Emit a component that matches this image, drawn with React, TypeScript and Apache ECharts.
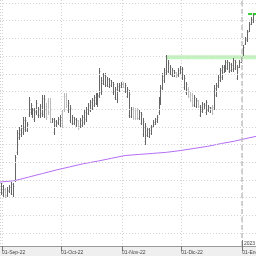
import React, { useEffect, useRef } from 'react';
import * as echarts from 'echarts';

// ---- data (daily bars, first bar on FIRST_BAR_DATE) ----
const FIRST_BAR_DATE = '2022-08-31';

const OPEN = [
  11.16, 11.13, 11.22, 11.07, 11.19, 11.13, 11.10, 11.50, 12.29, 12.71,
  12.80, 12.85, 12.94, 12.91, 13.36, 13.42, 13.31, 13.22, 13.42, 13.34,
  13.34, 13.39, 13.36, 13.59, 13.73, 13.70, 13.14, 12.85, 13.05, 13.11,
  13.05, 13.39, 13.87, 13.87, 13.48, 13.19, 13.11, 13.11, 13.05, 13.14,
  13.02, 13.05, 13.14, 13.22, 13.39, 13.48, 13.53, 13.62, 13.67, 13.65,
  13.90, 13.98, 14.24, 14.21, 14.18, 14.15, 14.18, 13.98, 13.84, 13.79,
  14.04, 14.13, 14.24, 14.01, 13.87, 13.34, 13.31, 13.50, 13.48, 13.48,
  13.25, 13.11, 12.80, 12.60, 12.77, 12.74, 12.83, 13.02, 13.08, 13.17,
  13.42, 13.70, 14.13, 14.32, 14.55, 14.58, 14.52, 14.47, 14.44, 14.52,
  14.47, 14.52, 14.41, 14.13, 13.98, 14.07, 13.93, 13.90, 13.62, 13.59,
  13.73, 13.34, 13.45, 13.50, 13.42, 13.48, 13.42, 13.56, 13.56, 13.90,
  14.15, 14.32, 14.41, 14.55, 14.61, 14.66, 14.58, 14.61, 14.64, 14.66,
  14.38, 14.69, 14.83, 15.00, 15.34, 15.45, 15.71, 15.91, 15.96,
];
const HIGH = [
  11.41, 11.36, 11.27, 11.30, 11.36, 11.44, 11.41, 12.20, 12.91, 13.00,
  13.05, 13.28, 13.28, 13.14, 13.84, 13.67, 13.53, 13.53, 13.76, 13.56,
  13.65, 13.90, 13.90, 13.67, 13.82, 13.82, 13.25, 13.25, 13.19, 13.28,
  13.34, 13.48, 13.96, 13.96, 13.76, 13.62, 13.34, 13.28, 13.25, 13.19,
  13.25, 13.34, 13.48, 13.56, 13.67, 13.76, 13.82, 13.90, 13.96, 13.96,
  14.66, 14.41, 14.52, 14.52, 14.41, 14.38, 14.32, 14.27, 14.13, 14.24,
  14.24, 14.27, 14.27, 14.24, 14.13, 14.04, 13.56, 13.56, 13.53, 13.53,
  13.48, 13.42, 13.25, 13.11, 13.00, 12.97, 13.05, 13.19, 13.25, 13.34,
  13.84, 14.18, 14.52, 14.66, 15.03, 14.89, 14.75, 14.66, 14.61, 14.55,
  14.66, 14.72, 14.69, 14.47, 14.27, 14.13, 13.98, 13.96, 13.90, 13.82,
  13.76, 13.62, 13.70, 13.67, 13.76, 13.62, 13.56, 13.62, 14.18, 14.24,
  14.47, 14.66, 14.75, 14.75, 14.89, 14.89, 14.83, 14.80, 14.95, 14.89,
  14.75, 14.89, 14.97, 15.31, 15.54, 15.74, 15.96, 16.10, 16.22,
];
const LOW = [
  11.07, 11.02, 10.99, 11.02, 11.13, 11.07, 11.02, 11.44, 12.20, 12.63,
  12.71, 12.77, 12.85, 12.85, 13.28, 13.34, 13.25, 13.14, 13.34, 13.25,
  13.25, 13.28, 13.25, 13.19, 13.34, 13.11, 13.11, 12.77, 13.00, 13.05,
  12.97, 12.97, 13.42, 13.53, 13.39, 13.11, 13.05, 13.05, 13.00, 12.91,
  12.97, 13.00, 13.05, 13.14, 13.34, 13.42, 13.48, 13.56, 13.62, 13.56,
  13.82, 13.90, 14.18, 14.13, 14.13, 14.10, 14.13, 13.90, 13.76, 13.67,
  13.98, 14.10, 14.10, 13.96, 13.82, 13.25, 13.25, 13.19, 13.19, 13.19,
  13.19, 13.05, 12.71, 12.49, 12.71, 12.68, 12.77, 12.97, 13.05, 13.11,
  13.34, 13.62, 14.04, 14.24, 14.47, 14.52, 14.47, 14.41, 14.41, 14.38,
  14.41, 14.47, 14.32, 14.04, 13.90, 13.82, 13.70, 13.56, 13.56, 13.53,
  13.53, 13.28, 13.39, 13.48, 13.34, 13.42, 13.39, 13.34, 13.48, 13.84,
  14.10, 14.27, 14.32, 14.52, 14.55, 14.61, 14.52, 14.55, 14.55, 14.61,
  14.32, 14.66, 14.80, 14.97, 15.31, 15.40, 15.68, 15.88, 15.94,
];
const CLOSE = [
  11.33, 11.24, 11.05, 11.22, 11.30, 11.39, 11.33, 12.15, 12.83, 12.91,
  12.97, 13.19, 13.19, 13.08, 13.76, 13.62, 13.48, 13.45, 13.67, 13.50,
  13.59, 13.82, 13.79, 13.28, 13.42, 13.22, 13.22, 13.17, 13.14, 13.22,
  13.28, 13.05, 13.50, 13.62, 13.67, 13.53, 13.28, 13.22, 13.19, 12.97,
  13.19, 13.28, 13.42, 13.50, 13.62, 13.70, 13.76, 13.84, 13.90, 13.87,
  14.58, 14.32, 14.47, 14.44, 14.35, 14.32, 14.27, 14.21, 14.07, 14.15,
  14.18, 14.21, 14.13, 14.18, 14.07, 13.93, 13.50, 13.25, 13.25, 13.25,
  13.42, 13.36, 13.17, 13.02, 12.94, 12.91, 13.00, 13.14, 13.22, 13.28,
  13.76, 14.10, 14.44, 14.61, 14.95, 14.80, 14.69, 14.61, 14.55, 14.41,
  14.61, 14.66, 14.64, 14.38, 14.21, 13.87, 13.76, 13.65, 13.84, 13.76,
  13.59, 13.56, 13.65, 13.62, 13.70, 13.56, 13.53, 13.39, 14.10, 14.18,
  14.41, 14.61, 14.69, 14.69, 14.83, 14.83, 14.78, 14.75, 14.89, 14.83,
  14.69, 14.83, 14.95, 15.26, 15.48, 15.68, 15.91, 16.05, 16.16,
];

// moving average (read at weekly points)
const MA_DATES = [
  '2022-08-31T00:00', '2022-09-07T12:00', '2022-09-14T12:00', '2022-09-21T12:00',
  '2022-09-28T12:00', '2022-10-05T12:00', '2022-10-12T12:00', '2022-10-19T12:00',
  '2022-10-26T12:00', '2022-11-02T12:00', '2022-11-09T12:00', '2022-11-16T12:00',
  '2022-11-23T12:00', '2022-11-30T12:00', '2022-12-07T12:00', '2022-12-14T12:00',
  '2022-12-21T12:00', '2022-12-28T12:00', '2023-01-04T12:00', '2023-01-08T00:00',
];
const MA_VALUES = [
  11.44, 11.48, 11.58, 11.68, 11.78, 11.87, 11.96, 12.03, 12.11, 12.19,
  12.22, 12.25, 12.28, 12.33, 12.39, 12.45, 12.53, 12.60, 12.69, 12.73,
];

const RESIST_FROM = '2022-11-23T12:00';
const RESIST_LEVEL = 14.97;
const LAST_FROM = '2023-01-04T00:00';
const LAST_LEVEL = 16.19;

const GRID_LEVELS = [10.0, 10.5, 11.0, 11.5, 12.0, 12.5, 13.0, 13.5, 14.0, 14.5, 15.0, 15.5, 16.0, 16.5];
const MESES = ['Ene', 'Feb', 'Mar', 'Abr', 'May', 'Jun', 'Jul', 'Ago', 'Sep', 'Oct', 'Nov', 'Dic'];
const YEAR_START = '2023-01-01T00:00';
const YEAR_LABEL = '2023';

const X_MIN = '2022-08-31T00:00';
const X_MAX = '2023-01-08T00:00';
const Y_MIN = 9.633;
const Y_MAX = 16.585;

const DAY = 86400000;
const t = (s: string) => Date.parse(s + 'Z');

const DARK = '#666666';
const LIGHT = '#bbbbbb';
const FONT = 'Liberation Sans, Arial, sans-serif';

export default function App() {
  const ref = useRef<HTMLDivElement>(null);

  useEffect(() => {
    if (!ref.current) return;
    const chart = echarts.init(ref.current, undefined, { renderer: 'svg' });
    const first = t(FIRST_BAR_DATE + 'T12:00');
    const bars = OPEN.map((o, i) => [first + i * DAY, o, HIGH[i], LOW[i], CLOSE[i]]);
    const ma = MA_DATES.map((d, i) => [t(d), MA_VALUES[i]]);

    const renderItem = (params: any, api: any) => {
      const x = api.value(0);
      const o = api.value(1), h = api.value(2), l = api.value(3), c = api.value(4);
      const pH = api.coord([x, h]);
      const pL = api.coord([x, l]);
      const pO = api.coord([x, o]);
      const pC = api.coord([x, c]);
      const cx = Math.round(pH[0]);
      const color = c >= o ? DARK : LIGHT;
      const yo = Math.round(pO[1]) + 0.5;
      const yc = Math.round(pC[1]) + 0.5;
      const st = { stroke: color, lineWidth: 1 };
      const tick = { stroke: color, lineWidth: 1, opacity: 0.5 };
      return {
        type: 'group',
        children: [
          { type: 'line', shape: { x1: cx + 0.5, y1: Math.round(pH[1]), x2: cx + 0.5, y2: Math.round(pL[1]) }, style: st },
          { type: 'line', shape: { x1: cx - 0.5, y1: yo, x2: cx, y2: yo }, style: tick },
          { type: 'line', shape: { x1: cx + 1, y1: yc, x2: cx + 1.5, y2: yc }, style: tick },
        ],
      };
    };

    const gridStyle = { color: '#d4d4d4', type: [1, 2], width: 1 };

    chart.setOption({
      animation: false,
      useUTC: true,
      grid: { left: 0, right: 0, top: 0, bottom: 10, containLabel: false, outerBoundsMode: 'none' },
      xAxis: {
        type: 'time',
        min: t(X_MIN),
        max: t(X_MAX),
        minInterval: 28 * DAY,
        maxInterval: 31 * DAY,
        axisLine: { show: true, lineStyle: { color: '#9a9a9a', width: 1 } },
        axisTick: { show: true, length: 5, lineStyle: { color: '#777' } },
        axisLabel: {
          show: true,
          fontSize: 5,
          fontFamily: FONT,
          color: '#444',
          align: 'left',
          margin: 3,
          showMinLabel: false,
          showMaxLabel: false,
          hideOverlap: false,
          formatter: (v: number) => {
            const d = new Date(v);
            if (d.getUTCDate() !== 1 || d.getUTCHours() !== 0) return '';
            return '01-' + MESES[d.getUTCMonth()] + '-' + String(d.getUTCFullYear()).slice(2);
          },
        },
        splitLine: { show: true, lineStyle: gridStyle },
      },
      yAxis: { type: 'value', min: Y_MIN, max: Y_MAX, show: false, splitLine: { show: false } },
      series: [
        {
          type: 'line',
          data: [[t(RESIST_FROM), RESIST_LEVEL], [t(X_MAX), RESIST_LEVEL]],
          symbol: 'none',
          showSymbol: false,
          lineStyle: { color: '#c4f4bd', width: 4 },
          z: 1,
          silent: true,
          markLine: {
            silent: true,
            symbol: ['none', 'none'],
            label: { show: false },
            data: [
              ...GRID_LEVELS.map((v) => ({ yAxis: v, lineStyle: gridStyle })),
              { xAxis: t(YEAR_START), lineStyle: { color: '#c2c2c2', type: [5, 3], width: 1.5 } },
            ],
          },
        },
        {
          type: 'custom',
          renderItem,
          data: bars,
          encode: { x: 0, y: [1, 2, 3, 4] },
          z: 2,
          silent: true,
        },
        {
          type: 'line',
          data: ma,
          symbol: 'none',
          showSymbol: false,
          lineStyle: { color: '#b46ef4', width: 1 },
          z: 3,
          silent: true,
        },
        {
          type: 'line',
          data: [[t(LAST_FROM), LAST_LEVEL], [t(X_MAX), LAST_LEVEL]],
          symbol: 'none',
          showSymbol: false,
          lineStyle: { color: '#2fd02f', width: 2, type: [4, 1.5] },
          z: 4,
          silent: true,
        },
      ],
    });

    const p = chart.convertToPixel({ gridIndex: 0 }, [t(YEAR_START), Y_MIN]) as number[];
    const axisY = p[1];
    const xx = Math.round(p[0]);
    chart.setOption({
      graphic: [
        { type: 'rect', z: -1, silent: true, shape: { x: 0, y: axisY, width: 256, height: 256 - axisY }, style: { fill: '#efefef' } },
        { type: 'line', z: 10, silent: true, shape: { x1: xx + 0.5, y1: axisY - 6, x2: xx + 0.5, y2: axisY }, style: { stroke: '#777', lineWidth: 1 } },
        { type: 'text', z: 10, silent: true, x: xx + 2, y: axisY - 1, style: { text: YEAR_LABEL, fontSize: 5, fontFamily: FONT, fill: '#444', textAlign: 'left', textVerticalAlign: 'bottom' } },
      ],
    });

    return () => chart.dispose();
  }, []);

  return <div ref={ref} style={{ position: 'fixed', left: 0, top: 0, width: 256, height: 256 }} />;
}
